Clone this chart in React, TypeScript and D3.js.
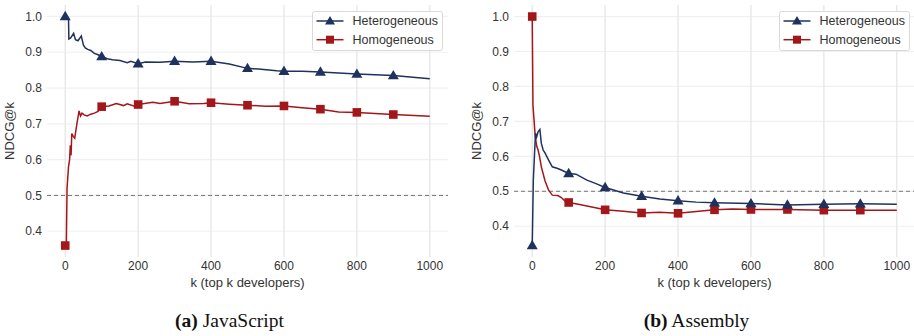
import React from "react";
import * as d3 from "d3";

// JavaScript panel
const jsHetK = [0, 9, 10, 15, 23, 28, 35, 44, 50, 55, 62, 70, 80, 90, 100, 115, 130, 150, 170, 180, 200, 220, 260, 300, 350, 400, 450, 500, 530, 580, 600, 650, 700, 800, 900, 1000];
const jsHetV = [1.0, 0.995, 0.937, 0.94, 0.953, 0.935, 0.932, 0.945, 0.92, 0.912, 0.908, 0.905, 0.897, 0.893, 0.888, 0.882, 0.879, 0.877, 0.871, 0.875, 0.868, 0.873, 0.872, 0.875, 0.873, 0.875, 0.867, 0.855, 0.853, 0.848, 0.847, 0.847, 0.845, 0.839, 0.835, 0.826];
const jsHomK = [0, 3, 5, 9, 12, 14, 16, 18, 22, 26, 32, 38, 42, 46, 52, 60, 70, 80, 90, 100, 120, 140, 160, 170, 190, 200, 240, 260, 300, 340, 380, 400, 450, 500, 550, 600, 650, 700, 750, 800, 900, 1000];
const jsHomV = [0.36, 0.36, 0.52, 0.58, 0.6, 0.64, 0.612, 0.673, 0.665, 0.66, 0.7, 0.736, 0.722, 0.73, 0.725, 0.722, 0.727, 0.73, 0.735, 0.748, 0.75, 0.757, 0.751, 0.756, 0.749, 0.754, 0.76, 0.757, 0.763, 0.756, 0.757, 0.759, 0.755, 0.752, 0.749, 0.75, 0.745, 0.741, 0.733, 0.732, 0.726, 0.721];

// Assembly panel
const asmHetK = [0, 3, 6, 9, 12, 16, 21, 25, 30, 35, 45, 55, 70, 80, 100, 120, 150, 175, 200, 250, 300, 350, 400, 450, 500, 600, 700, 800, 900, 1000];
const asmHetV = [0.345, 0.532, 0.6, 0.666, 0.655, 0.67, 0.677, 0.637, 0.618, 0.61, 0.589, 0.57, 0.565, 0.561, 0.551, 0.549, 0.532, 0.522, 0.511, 0.495, 0.486, 0.478, 0.473, 0.469, 0.467, 0.465, 0.461, 0.463, 0.464, 0.463];
const asmHomK = [0, 2, 4, 8, 12, 16, 20, 25, 35, 45, 55, 70, 80, 90, 100, 130, 150, 200, 250, 300, 350, 400, 450, 500, 550, 600, 700, 800, 900, 1000];
const asmHomV = [1.0, 0.747, 0.718, 0.66, 0.63, 0.618, 0.6, 0.57, 0.53, 0.503, 0.489, 0.488, 0.482, 0.472, 0.468, 0.462, 0.458, 0.447, 0.443, 0.438, 0.44, 0.437, 0.442, 0.447, 0.449, 0.448, 0.448, 0.446, 0.446, 0.446];

const markerK = [0, 100, 200, 300, 400, 500, 600, 700, 800, 900];
const xTicks = [0, 200, 400, 600, 800, 1000];
const yTicks = [0.4, 0.5, 0.6, 0.7, 0.8, 0.9, 1.0];
const seriesNames = ["Heterogeneous", "Homogeneous"];

const HET = "#1f325e";
const HOM = "#a3171b";
const FONT = "'Liberation Sans', Arial, sans-serif";

type Pt = { k: number; v: number };
const zip = (ks: number[], vs: number[]): Pt[] => ks.map((k, i) => ({ k, v: vs[i] }));

function Triangle({ x, y, s = 5.5 }: { x: number; y: number; s?: number }) {
  const h = s * 1.7;
  return <path d={`M${x},${y - h * 0.6} L${x + s},${y + h * 0.4} L${x - s},${y + h * 0.4} Z`} fill={HET} />;
}
function Square({ x, y, s = 4.3 }: { x: number; y: number; s?: number }) {
  return <rect x={x - s} y={y - s} width={s * 2} height={s * 2} fill={HOM} />;
}

function Panel({ left, right, yDomain, het, hom, legendX, caption, bold }: any) {
  const top = 5, bottom = 257;
  const x = d3.scaleLinear().domain([-50, 1050]).range([left, right]);
  const y = d3.scaleLinear().domain(yDomain).range([bottom, top]);
  const line = d3.line<Pt>().x((d) => x(d.k)).y((d) => y(d.v));
  const mk = (data: Pt[]) => markerK.map((k) => data.find((d) => d.k === k)!).filter(Boolean);
  const cx = (left + right) / 2;
  const yTicksIn = yTicks.filter((t) => t >= yDomain[0] && t <= yDomain[1]);
  return (
    <g>
      {yTicksIn.map((t) => (
        <line key={"h" + t} x1={left} x2={right} y1={y(t)} y2={y(t)} stroke="#f0f0f0" strokeWidth={1.2} />
      ))}
      {xTicks.map((t) => (
        <line key={"v" + t} x1={x(t)} x2={x(t)} y1={top} y2={bottom} stroke="#e8e8e8" strokeWidth={1.4} />
      ))}
      <line x1={left} x2={right} y1={y(0.5)} y2={y(0.5)} stroke="#666" strokeWidth={0.9} strokeDasharray="4,3" />
      <path d={line(hom)!} fill="none" stroke={HOM} strokeWidth={1.5} />
      <path d={line(het)!} fill="none" stroke={HET} strokeWidth={1.5} />
      {mk(hom).map((d) => <Square key={"s" + d.k} x={x(d.k)} y={y(d.v)} />)}
      {mk(het).map((d) => <Triangle key={"t" + d.k} x={x(d.k)} y={y(d.v)} />)}
      {yTicksIn.map((t) => (
        <text key={"yl" + t} x={left - 5} y={y(t)} dy="0.35em" textAnchor="end" fontSize={12} fill="#333" fontFamily={FONT}>
          {t.toFixed(1)}
        </text>
      ))}
      {xTicks.map((t) => (
        <text key={"xl" + t} x={x(t)} y={270} textAnchor="middle" fontSize={12} fill="#333" fontFamily={FONT}>
          {t}
        </text>
      ))}
      <text x={cx} y={287} textAnchor="middle" fontSize={13} fill="#333" fontFamily={FONT}>
        k (top k developers)
      </text>
      <text transform={`translate(${left - 33},${(top + bottom) / 2}) rotate(-90)`} textAnchor="middle" fontSize={13} fill="#333" fontFamily={FONT}>
        NDCG@k
      </text>
      <g transform={`translate(${legendX},11.5)`}>
        <rect x={0} y={0} width={130} height={39} rx={2} fill="#fff" stroke="#d9d9d9" strokeWidth={1} />
        {seriesNames.map((name, i) => {
          const ry = 9.5 + i * 18.7;
          return (
            <g key={name}>
              <line x1={4} x2={31} y1={ry} y2={ry} stroke={i === 0 ? HET : HOM} strokeWidth={1.5} />
              {i === 0 ? <Triangle x={17.5} y={ry} s={5} /> : <Square x={17.5} y={ry} s={4} />}
              <text x={40} y={ry} dy="0.35em" fontSize={12.5} fill="#333" fontFamily={FONT}>
                {name}
              </text>
            </g>
          );
        })}
      </g>
      <text x={cx - 18} y={327} textAnchor="middle" fontSize={19.5} fill="#111" fontFamily="'Liberation Serif', 'Times New Roman', serif">
        <tspan fontWeight="bold">{bold}</tspan>
        <tspan> {caption}</tspan>
      </text>
    </g>
  );
}

export default function App() {
  return (
    <svg width={914} height={336} style={{ position: "absolute", left: 0, top: 0, background: "#fff" }}>
      <Panel left={47} right={448} yDomain={[0.328, 1.032]} het={zip(jsHetK, jsHetV)} hom={zip(jsHomK, jsHomV)} legendX={312.5} caption="JavaScript" bold="(a)" />
      <Panel left={514} right={915} yDomain={[0.312, 1.033]} het={zip(asmHetK, asmHetV)} hom={zip(asmHomK, asmHomV)} legendX={779.5} caption="Assembly" bold="(b)" />
    </svg>
  );
}
